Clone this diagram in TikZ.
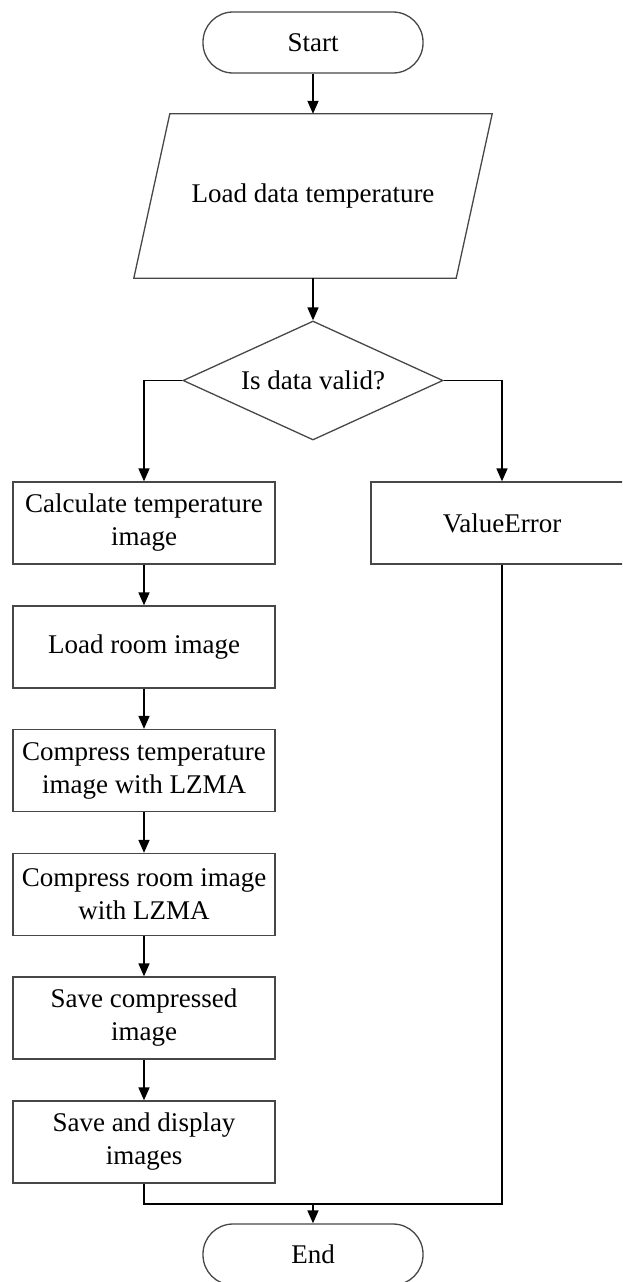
\documentclass[tikz,border=0pt]{standalone}
\usepackage{fontspec}
\setmainfont{Liberation Serif}
\usetikzlibrary{shapes.geometric,arrows.meta,calc}
\begin{document}
\begin{tikzpicture}[x=1pt,y=-1pt,
  every node/.style={font=\fontsize{27}{33}\selectfont, text=black, align=center, inner sep=0pt},
  boxstyle/.style={draw=black!72, line width=1.3pt, rectangle, minimum width=262pt, minimum height=82pt},
  termstyle/.style={draw=black!72, line width=1.3pt, rectangle, rounded corners=30pt, minimum width=220pt, minimum height=61pt},
  decstyle/.style={draw=black!72, line width=1.3pt, diamond, aspect=2.18, minimum width=260pt, minimum height=119pt},
  conn/.style={draw=black, line width=1.7pt},
  arr/.style={conn, -{Triangle[length=13pt,width=11pt]}}
]
\useasboundingbox (0,0) rectangle (622,1282);
\begin{scope}
\clip (0,0) rectangle (622,1282);
\node[termstyle] (start) at (313,42.5) {Start};
\node[minimum width=358pt, minimum height=164pt] (inp) at (313,196) {Load data temperature};
\draw[draw=black!72, line width=1.3pt] ($(inp.north west)+(36,0)$) -- (inp.north east) -- ($(inp.south east)+(-36,0)$) -- (inp.south west) -- cycle;
\node[decstyle] (dec) at (313,380.5) {Is data valid?};
\node[boxstyle] (b1) at (144,523) {Calculate temperature\\image};
\node[boxstyle] (b2) at (144,647) {Load room image};
\node[boxstyle] (b3) at (144,770.5) {Compress temperature\\image with LZMA};
\node[boxstyle] (b4) at (144,894.5) {Compress room image\\with LZMA};
\node[boxstyle] (b5) at (144,1018) {Save compressed\\image};
\node[boxstyle] (b6) at (144,1142) {Save and display\\images};
\node[boxstyle] (ve) at (502,523) {ValueError};
\node[termstyle] (endn) at (313,1254.5) {End};
\coordinate (j) at (313,1204);

\draw[arr] (start) -- (inp);
\draw[arr] (inp) -- (dec);
\draw[arr] (dec.west) -| (b1.north);
\draw[arr] (dec.east) -| (ve.north);
\draw[arr] (b1) -- (b2);
\draw[arr] (b2) -- (b3);
\draw[arr] (b3) -- (b4);
\draw[arr] (b4) -- (b5);
\draw[arr] (b5) -- (b6);
\draw[conn] (b6.south) |- (j);
\draw[conn] (ve.south) |- (j);
\draw[arr] (j) -- (endn.north);
\end{scope}
\end{tikzpicture}
\end{document}
